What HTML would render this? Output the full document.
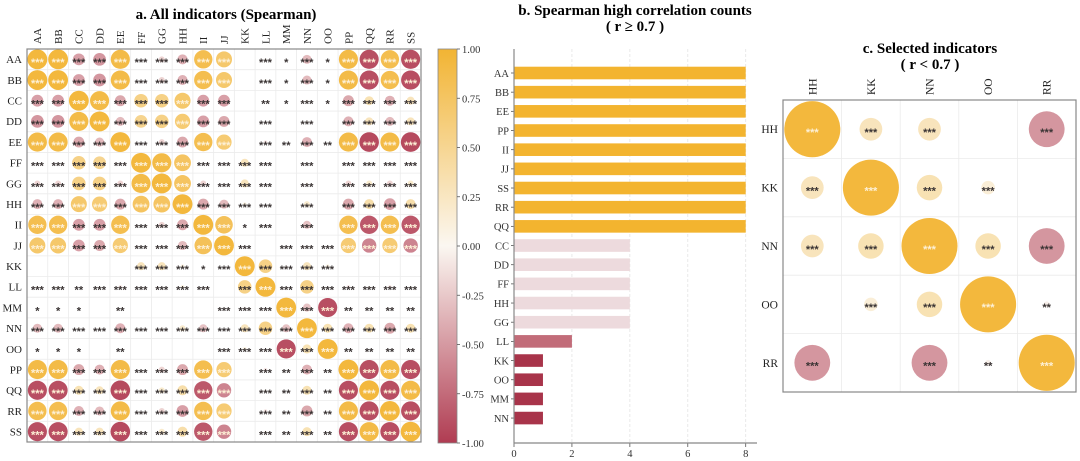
<!DOCTYPE html>
<html><head><meta charset="utf-8">
<style>
html,body{margin:0;padding:0;background:#fff;}
svg{display:block;font-family:"Liberation Serif",serif;}
</style></head>
<body>
<svg id="fig" width="1080" height="461" viewBox="0 0 1080 461" xmlns="http://www.w3.org/2000/svg">
<defs>
<linearGradient id="cbgrad" x1="0" y1="0" x2="0" y2="1">
<stop offset="0" stop-color="#f2b433"/>
<stop offset="0.5" stop-color="#fbf7f1"/>
<stop offset="1" stop-color="#b03c52"/>
</linearGradient>
</defs>
<text x="226" y="19" text-anchor="middle" font-size="15" font-weight="bold">a. All indicators (Spearman)</text>
<text x="635" y="15" text-anchor="middle" font-size="15" font-weight="bold">b. Spearman high correlation counts</text>
<text x="635" y="31" text-anchor="middle" font-size="15" font-weight="bold">( r ≥ 0.7 )</text>
<text x="930" y="53" text-anchor="middle" font-size="15" font-weight="bold">c. Selected indicators</text>
<text x="930" y="69" text-anchor="middle" font-size="15" font-weight="bold">( r &lt; 0.7 )</text>
<g id="pa"></g><g id="pb"></g><g id="pc"></g>
</svg>
<script>
const labelsA = ["AA","BB","CC","DD","EE","FF","GG","HH","II","JJ","KK","LL","MM","NN","OO","PP","QQ","RR","SS"];
const corrA = [
[1,1,-.5,-.55,.95,0,-.2,-.4,.9,.75,0,.05,0,-.35,0,.95,-.95,.9,-.95],
[1,1,-.5,-.55,.95,0,-.2,-.4,.9,.75,0,.05,0,-.35,0,.95,-.95,.9,-.95],
[-.5,-.5,1,.95,-.45,.6,.6,.75,-.5,-.5,0,0,0,.05,0,-.45,.35,-.4,.3],
[-.55,-.55,.95,1,-.35,.55,.6,.7,-.5,-.45,0,0,0,.05,0,-.4,.3,-.35,.3],
[.95,.95,-.45,-.35,1,.02,-.2,-.45,.9,.7,0,-.1,0,-.4,0,.95,-.98,.95,-.98],
[0,0,.6,.55,.02,1,.95,.8,0,0,.3,0,0,0,0,0,.05,0,.05],
[-.2,-.2,.6,.6,-.2,.95,1,.8,-.2,0,.3,0,0,.05,0,-.2,.2,-.2,.2],
[-.4,-.4,.75,.7,-.45,.8,.8,1,-.45,-.35,.1,0,0,.2,0,-.45,.4,-.5,.4],
[.9,.9,-.5,-.5,.9,0,-.2,-.45,1,.85,0,0,0,-.3,0,.9,-.9,.9,-.9],
[.75,.75,-.5,-.45,.7,0,0,-.35,.85,1,0,0,0,0,0,.7,-.65,.7,-.65],
[0,0,0,0,0,.3,.3,.1,0,0,1,.6,-.05,.3,.1,0,0,0,0],
[.05,.05,0,0,-.1,0,0,.1,0,0,.6,1,0,.6,0,-.1,.05,-.1,.05],
[0,0,0,0,0,0,0,0,0,0,-.05,0,1,-.3,-.95,0,0,0,0],
[-.35,-.35,.05,.05,-.4,0,.05,.2,-.3,0,.3,.6,-.3,1,.35,-.4,.35,-.45,.35],
[0,0,0,0,0,0,0,0,0,0,.1,0,-.95,.35,1,0,0,0,0],
[.95,.95,-.45,-.4,.95,0,-.2,-.45,.9,.7,0,-.1,0,-.4,0,1,-.95,.95,-.95],
[-.95,-.95,.35,.3,-.98,.05,.2,.4,-.9,-.65,0,.05,0,.35,0,-.95,1,-.95,.95],
[.9,.9,-.4,-.35,.95,0,-.2,-.5,.9,.7,0,-.1,0,-.45,0,.95,-.95,1,-.95],
[-.95,-.95,.3,.3,-.98,.05,.2,.4,-.9,-.65,0,.05,0,.35,0,-.95,.95,-.95,1]
];
const sigA = [
[3,3,3,3,3,3,3,3,3,3,0,3,1,3,1,3,3,3,3],
[3,3,3,3,3,3,3,3,3,3,0,3,1,3,1,3,3,3,3],
[3,3,3,3,3,3,3,3,3,3,0,2,1,3,1,3,3,3,3],
[3,3,3,3,3,3,3,3,3,3,0,3,0,3,0,3,3,3,3],
[3,3,3,3,3,3,3,3,3,3,0,3,2,3,2,3,3,3,3],
[3,3,3,3,3,3,3,3,3,3,3,3,0,3,0,3,3,3,3],
[3,3,3,3,3,3,3,3,3,3,3,3,0,3,0,3,3,3,3],
[3,3,3,3,3,3,3,3,3,3,3,3,0,3,0,3,3,3,3],
[3,3,3,3,3,3,3,3,3,3,1,3,0,3,0,3,3,3,3],
[3,3,3,3,3,3,3,3,3,3,3,0,3,3,3,3,3,3,3],
[0,0,0,0,0,3,3,3,1,3,3,3,3,3,3,0,0,0,0],
[3,3,2,3,3,3,3,3,3,0,3,3,3,3,3,3,3,3,3],
[1,1,1,0,2,0,0,0,0,3,3,3,3,3,3,2,2,2,2],
[3,3,3,3,3,3,3,3,3,3,3,3,3,3,3,3,3,3,3],
[1,1,1,0,2,0,0,0,0,3,3,3,3,3,3,2,2,2,2],
[3,3,3,3,3,3,3,3,3,3,0,3,2,3,2,3,3,3,3],
[3,3,3,3,3,3,3,3,3,3,0,3,2,3,2,3,3,3,3],
[3,3,3,3,3,3,3,3,3,3,0,3,2,3,2,3,3,3,3],
[3,3,3,3,3,3,3,3,3,3,0,3,2,3,2,3,3,3,3]
];
const cbTicks = [1,0.75,0.5,0.25,0,-0.25,-0.5,-0.75,-1];
const barLabels = ["AA","BB","EE","PP","II","JJ","SS","RR","QQ","CC","DD","FF","HH","GG","LL","KK","OO","MM","NN"];
const barCounts = [8,8,8,8,8,8,8,8,8,4,4,4,4,4,2,1,1,1,1];
const barTicks = [0,2,4,6,8];
const labelsC = ["HH","KK","NN","OO","RR"];
const corrC = [
[1,.3,.3,0,-.55],
[.3,1,.35,.15,0],
[.3,.35,1,.35,-.55],
[0,.15,.35,1,-.05],
[-.55,0,-.55,-.05,1]
];
const sigC = [
[3,3,3,0,3],
[3,3,3,3,0],
[3,3,3,3,3],
[0,3,3,3,2],
[3,0,3,2,3]
];

const NS="http://www.w3.org/2000/svg";
function mk(tag,attrs,parent){const e=document.createElementNS(NS,tag);for(const k in attrs)e.setAttribute(k,attrs[k]);parent.appendChild(e);return e;}
function mix(a,b,t){const pa=[1,3,5].map(i=>parseInt(a.substr(i,2),16)),pb=[1,3,5].map(i=>parseInt(b.substr(i,2),16));return "rgb("+pa.map((v,i)=>Math.round(v+(pb[i]-v)*t)).join(",")+")";}
function cmap(r){return r>=0?mix("#fbf7f1","#f2b433",Math.min(1,r)):mix("#fbf7f1","#b03c52",Math.min(1,-r));}
function stars(n){return "*".repeat(n);}

function corrPlot(g,labels,corr,sig,x0,y0,w,h,fs,sfs,prefix){
  const n=labels.length,cw=w/n,ch=h/n;
  const xs=i=>x0+cw*(i+0.5), ys=i=>y0+ch*(i+0.5);
  for(let i=1;i<n;i++){
    mk("line",{x1:x0+cw*i,x2:x0+cw*i,y1:y0,y2:y0+h,stroke:"#ebebeb","stroke-width":0.8},g);
    mk("line",{x1:x0,x2:x0+w,y1:y0+ch*i,y2:y0+ch*i,stroke:"#ebebeb","stroke-width":0.8},g);
  }
  for(let i=0;i<n;i++){
    const rl=mk("text",{x:x0-5,y:ys(i)+fs*0.35,"text-anchor":"end","font-size":fs,fill:"#222"},g);
    rl.textContent=labels[i];
    
    
    const cl=mk("text",{x:0,y:0,"text-anchor":"start","font-size":fs,fill:"#222",transform:"translate("+(xs(i)+fs*0.35)+","+(y0-5)+") rotate(-90)"},g);
    cl.textContent=labels[i];
    
    
  }
  const rmax=Math.min(cw,ch)*0.48;
  for(let i=0;i<n;i++)for(let j=0;j<n;j++){
    const r=corr[i][j];
    if(Math.abs(r)>0.005){
      const c=mk("circle",{cx:xs(j),cy:ys(i),r:rmax*Math.pow(Math.abs(r),0.75),fill:cmap(r),"fill-opacity":0.95},g);
      
      
    }
    if(sig[i][j]>0){
      const t=mk("text",{x:xs(j),y:ys(i)+sfs*0.62,"text-anchor":"middle","font-size":sfs,"font-weight":"bold","font-family":"Liberation Sans,sans-serif",fill:Math.abs(r)>=0.62?"#fdf0d6":"#3a3434"},g);
      t.textContent=stars(sig[i][j]);
      
      
    }
  }
  const b=mk("rect",{x:x0,y:y0,width:w,height:h,fill:"none",stroke:"#888","stroke-width":1.2},g);
  
  
}

// Panel a
const pa=document.getElementById("pa");
corrPlot(pa,labelsA,corrA,sigA,27,49,394,393,11,11,"panel-a");
// colorbar
const cbX=438,cbW=19,cbY0=49,cbY1=443;
const cb=mk("rect",{x:cbX,y:cbY0,width:cbW,height:cbY1-cbY0,fill:"url(#cbgrad)",stroke:"#888","stroke-width":0.8},pa);


const cy=v=>cbY0+(1-v)/2*(cbY1-cbY0);
cbTicks.forEach(v=>{
  mk("line",{x1:cbX+cbW,x2:cbX+cbW+3,y1:cy(v),y2:cy(v),stroke:"#555","stroke-width":0.8},pa);
  const t=mk("text",{x:cbX+cbW+5,y:cy(v)+4,"font-size":10.5,fill:"#333"},pa);
  t.textContent=v.toFixed(2);
  
  
});

// Panel b
const pb=document.getElementById("pb");
const bx0=514,bx8=745.7,by0=49,by1=443;
const bxs=v=>bx0+(bx8-bx0)*v/8;
const byc=i=>73+i*19.17;
barTicks.forEach(v=>{
  if(v>0) mk("line",{x1:bxs(v),x2:bxs(v),y1:by0,y2:by1,stroke:"#e4e4e4","stroke-width":0.8,"stroke-dasharray":"3,2"},pb);
  mk("line",{x1:bxs(v),x2:bxs(v),y1:by1,y2:by1+4,stroke:"#555","stroke-width":0.8},pb);
  const t=mk("text",{x:bxs(v),y:by1+14,"text-anchor":"middle","font-size":10.5,fill:"#333"},pb);
  t.textContent=v;
  
  
});
function barColor(v){return v>=8?"#f3b42f":v>=4?"#eddadd":v>=2?"#c26c79":"#a8344a";}
barLabels.forEach((l,i)=>{
  const r=mk("rect",{x:bx0,y:byc(i)-6.3,width:bxs(barCounts[i])-bx0,height:12.6,fill:barColor(barCounts[i])},pb);
  
  
  mk("line",{x1:bx0-3,x2:bx0,y1:byc(i),y2:byc(i),stroke:"#555","stroke-width":0.8},pb);
  const t=mk("text",{x:bx0-5,y:byc(i)+3.8,"text-anchor":"end","font-size":10.5,fill:"#333"},pb);
  t.textContent=l;
  
  
});
const ax1=mk("line",{x1:bx0,x2:bx0,y1:by0,y2:by1,stroke:"#888","stroke-width":1.2},pb);


const ax2=mk("line",{x1:bx0,x2:757,y1:by1,y2:by1,stroke:"#888","stroke-width":1.2},pb);



// Panel c
const pc=document.getElementById("pc");
corrPlot(pc,labelsC,corrC,sigC,783,100,293,292,11.5,11,"panel-c");
</script>
</body></html>
